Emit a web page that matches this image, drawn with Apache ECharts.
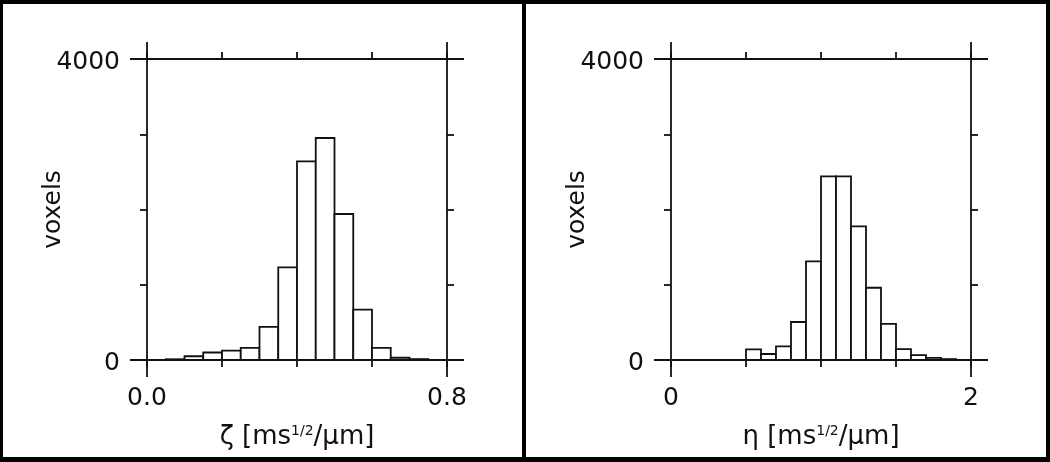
<!doctype html>
<html lang="en">
<head>
	<meta charset="utf-8" />
	<title>Histograms</title>
	<script src="https://cdn.jsdelivr.net/npm/echarts@6/dist/echarts.min.js"></script>
	<style>
		html, body { margin: 0; padding: 0; background: #fff; }
		#wrap { position: relative; width: 1050px; height: 462px; }
		#chart { position: absolute; left: 0; top: 0; width: 1050px; height: 462px; }
		.edge { position: absolute; background: #000; pointer-events: none; }
	</style>
</head>
<body>
	<div id="wrap">
		<div id="chart"></div>
		<!-- outer frame and the middle divider -->
		<div class="edge" style="left:0;top:0;width:1050px;height:4px"></div>
		<div class="edge" style="left:0;top:457px;width:1050px;height:5px"></div>
		<div class="edge" style="left:0;top:0;width:3px;height:462px"></div>
		<div class="edge" style="left:1046px;top:0;width:4px;height:462px"></div>
		<div class="edge" style="left:522px;top:0;width:4px;height:462px"></div>
	</div>
	<script>
		// zeta histogram (left)
		const zetaBinStart = [0.05, 0.10, 0.15, 0.20, 0.25, 0.30, 0.35, 0.40, 0.45, 0.50, 0.55, 0.60, 0.65, 0.70];
		const zetaBinWidth = 0.05;
		const zetaCounts = [10, 50, 100, 125, 160, 440, 1230, 2640, 2950, 1940, 670, 160, 30, 12];
		// eta histogram (right)
		const etaBinStart = [0.5, 0.6, 0.7, 0.8, 0.9, 1.0, 1.1, 1.2, 1.3, 1.4, 1.5, 1.6, 1.7, 1.8];
		const etaBinWidth = 0.1;
		const etaCounts = [140, 80, 180, 505, 1310, 2440, 2440, 1775, 960, 480, 145, 65, 27, 12];
		// axes
		const zetaRange = [0, 0.8];
		const zetaTickStep = 0.2;
		const zetaTickLabels = ['0.0', '0.8'];
		const etaRange = [0, 2];
		const etaTickStep = 0.5;
		const etaTickLabels = ['0', '2'];
		const yMax = 4000;
		const yTickStep = 1000;
		const yTickLabels = ['0', '4000'];

		const font = 'DejaVu Sans';
		const ink = '#111';
		const lw = 1.8;
		const ext = 17;

		const toBins = (starts, width, counts) => starts.map((s, i) => [s, +(s + width).toFixed(3), counts[i]]);

		function renderBin(params, api) {
			const p0 = api.coord([api.value(0), api.value(2)]);
			const p1 = api.coord([api.value(1), 0]);
			return {
				type: 'rect',
				shape: { x: p0[0], y: p0[1], width: p1[0] - p0[0], height: p1[1] - p0[1] },
				style: { fill: '#fff', stroke: ink, lineWidth: lw }
			};
		}

		function xAxes(gridIndex, range, step, labels, symbol) {
			const [lo, hi] = range;
			const base = {
				gridIndex, type: 'value', min: lo, max: hi, interval: step,
				axisLine: { show: false, onZero: false },
				splitLine: { show: false },
				axisTick: { show: true, inside: false, length: 7, lineStyle: { color: ink, width: lw } }
			};
			return [
				Object.assign({}, base, {
					position: 'bottom',
					axisLabel: {
						show: true, margin: 26, fontSize: 25, fontFamily: font, color: ink,
						formatter: v => Math.abs(v - lo) < 1e-9 ? labels[0] : (Math.abs(v - hi) < 1e-9 ? labels[1] : '')
					},
					name: '{t|' + symbol + ' [ms}{s|1/2}{t|/\u03bcm]}',
					nameLocation: 'middle',
					nameGap: 64,
					nameTextStyle: {
						rich: {
							t: { fontSize: 26, fontFamily: font, color: ink },
							s: { fontSize: 14, fontFamily: font, color: ink, verticalAlign: 'top', lineHeight: 17 }
						}
					}
				}),
				Object.assign({}, base, { position: 'top', axisLabel: { show: false } })
			];
		}

		function yAxes(gridIndex) {
			const base = {
				gridIndex, type: 'value', min: 0, max: yMax, interval: yTickStep,
				axisLine: { show: false, onZero: false },
				splitLine: { show: false },
				axisTick: { show: true, inside: false, length: 7, lineStyle: { color: ink, width: lw } }
			};
			return [
				Object.assign({}, base, {
					position: 'left',
					axisLabel: {
						show: true, margin: 27,
						formatter: v => v === 0 ? '{v|' + yTickLabels[0] + '}' : (v === yMax ? '{v|' + yTickLabels[1] + '}' : ''),
						rich: { v: { fontSize: 25, fontFamily: font, color: ink, padding: [7, 0, 0, 0] } }
					},
					name: 'voxels',
					nameLocation: 'middle',
					nameGap: 81,
					nameMoveOverlap: false,
					nameTextStyle: { fontSize: 25, fontFamily: font, color: ink }
				}),
				Object.assign({}, base, { position: 'right', axisLabel: { show: false } })
			];
		}

		const chart = echarts.init(document.getElementById('chart'), null, { renderer: 'canvas' });
		chart.setOption({
			animation: false,
			backgroundColor: '#fff',
			grid: [
				{ left: 147, top: 59, width: 300, height: 301 },
				{ left: 671, top: 59, width: 300, height: 301 }
			],
			xAxis: [].concat(
				xAxes(0, zetaRange, zetaTickStep, zetaTickLabels, '\u03b6'),
				xAxes(1, etaRange, etaTickStep, etaTickLabels, '\u03b7')
			),
			yAxis: [].concat(yAxes(0), yAxes(1)),
			series: [
				{
					type: 'custom', xAxisIndex: 0, yAxisIndex: 0,
					renderItem: renderBin, encode: { x: [0, 1], y: 2 },
					data: toBins(zetaBinStart, zetaBinWidth, zetaCounts)
				},
				{
					type: 'custom', xAxisIndex: 2, yAxisIndex: 2,
					renderItem: renderBin, encode: { x: [0, 1], y: 2 },
					data: toBins(etaBinStart, etaBinWidth, etaCounts)
				}
			]
		});

		// box lines that run a little past each corner
		function frame(xIdx, yIdx, range) {
			const tl = chart.convertToPixel({ xAxisIndex: xIdx, yAxisIndex: yIdx }, [range[0], yMax]);
			const br = chart.convertToPixel({ xAxisIndex: xIdx, yAxisIndex: yIdx }, [range[1], 0]);
			const line = (x1, y1, x2, y2) => ({
				type: 'line', silent: true, z: 10,
				shape: { x1, y1, x2, y2 },
				style: { stroke: ink, lineWidth: lw }
			});
			return [
				line(tl[0] - ext, tl[1], br[0] + ext, tl[1]),
				line(tl[0] - ext, br[1], br[0] + ext, br[1]),
				line(tl[0], tl[1] - ext, tl[0], br[1] + ext),
				line(br[0], tl[1] - ext, br[0], br[1] + ext)
			];
		}
		chart.setOption({ graphic: [].concat(frame(0, 0, zetaRange), frame(2, 2, etaRange)) });
	</script>
</body>
</html>
